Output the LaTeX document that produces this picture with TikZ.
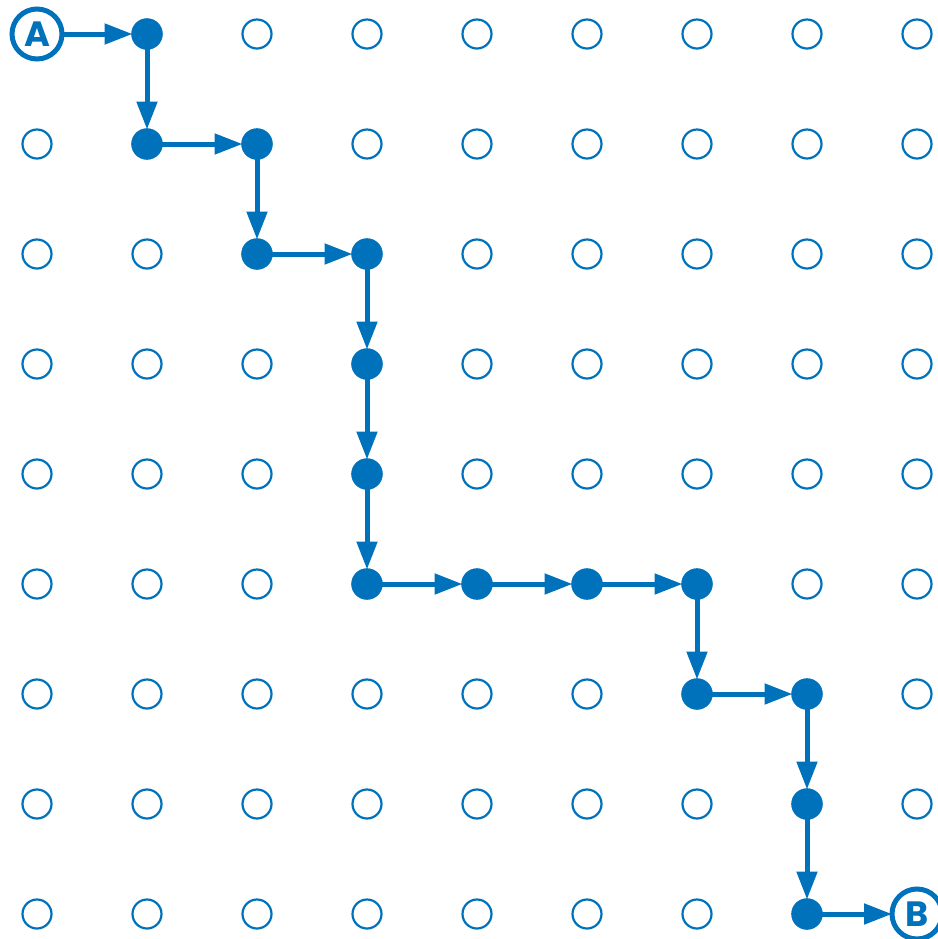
\documentclass[tikz,border=0pt]{standalone}
\usepackage{fontspec}
\newfontfamily\letterfont{Poppins}
\usetikzlibrary{arrows.meta}

\definecolor{pathblue}{RGB}{0,114,188}

\begin{document}
\begin{tikzpicture}[x=2.2cm, y=-2.2cm, >={Triangle[length=0.56cm,width=0.4cm]}]
  \tikzset{
    spot/.style={circle, draw=pathblue, line width=1.25pt, minimum size=0.58cm, inner sep=0pt, outer sep=0pt},
    dot/.style={spot, fill=pathblue},
    endpoint/.style={circle, draw=pathblue, fill=white, line width=0.1cm, minimum size=1.0cm,
                     inner sep=0pt, outer sep=0pt, text=pathblue, font=\letterfont\bfseries\fontsize{20}{20}\selectfont},
    link/.style={->, draw=pathblue, line width=0.1cm}
  }
  \useasboundingbox (-0.74cm,0.68cm) rectangle (18.02cm,-18.1cm);

  % grid of open spots
  \foreach \i in {0,...,8}
    \foreach \j in {0,...,8}
      \node[spot] (g-\i-\j) at (\i,\j) {};

  % start and end
  \node[endpoint] (A) at (g-0-0) {A};
  \node[endpoint] (B) at (g-8-8) {B};

  % filled spots along the route
  \foreach \n/\i/\j in {1/1/0, 2/1/1, 3/2/1, 4/2/2, 5/3/2, 6/3/3, 7/3/4, 8/3/5,
                        9/4/5, 10/5/5, 11/6/5, 12/6/6, 13/7/6, 14/7/7, 15/7/8}
    \node[dot] (n\n) at (g-\i-\j) {};

  % route
  \foreach \a/\b in {A/n1, n1/n2, n2/n3, n3/n4, n4/n5, n5/n6, n6/n7, n7/n8,
                     n8/n9, n9/n10, n10/n11, n11/n12, n12/n13, n13/n14, n14/n15, n15/B}
    \draw[link] (\a) -- (\b);
\end{tikzpicture}
\end{document}
